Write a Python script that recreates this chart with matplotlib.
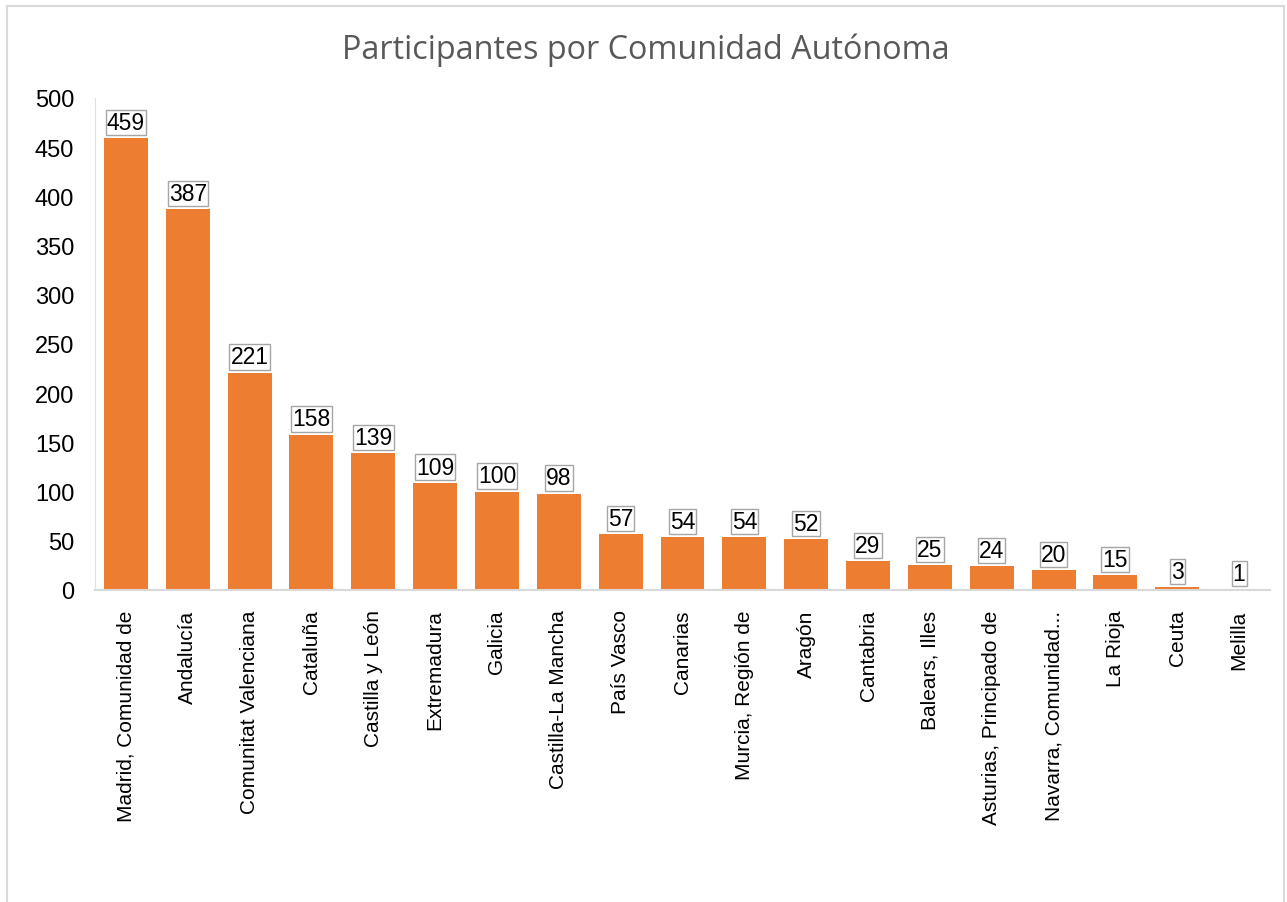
import matplotlib
matplotlib.use("Agg")
import matplotlib.pyplot as plt
from matplotlib.patches import Rectangle

regiones = ["Madrid, Comunidad de", "Andalucía", "Comunitat Valenciana", "Cataluña",
            "Castilla y León", "Extremadura", "Galicia", "Castilla-La Mancha",
            "País Vasco", "Canarias", "Murcia, Región de", "Aragón", "Cantabria",
            "Balears, Illes", "Asturias, Principado de", "Navarra, Comunidad...",
            "La Rioja", "Ceuta", "Melilla"]
participantes = [459, 387, 221, 158, 139, 109, 100, 98, 57, 54, 54, 52, 29, 25, 24, 20, 15, 3, 1]
yticks = list(range(0, 501, 50))

plt.rcParams['font.family'] = ['Liberation Sans', 'DejaVu Sans']

fig = plt.figure(figsize=(12.87, 9.03), dpi=100)
# marco del grafico
fig.patches.append(Rectangle((7/1287, -0.01), (1284-7)/1287, 1 - 7/903 + 0.01,
                             transform=fig.transFigure, fill=False,
                             edgecolor='#d9d9d9', linewidth=1.5))
ax = fig.add_axes([95/1287, 1 - 591/903, (1270-95)/1287, (591-99)/903])

x = range(len(regiones))
bars = ax.bar(x, participantes, width=0.71, color='#ed7d31', zorder=2)
for i, v in enumerate(participantes):
    ax.annotate(str(v), (i, v), xytext=(0, 3), textcoords='offset points',
                ha='center', va='bottom', fontsize=16.5, color='#000000',
                bbox=dict(boxstyle='square,pad=0.05', fc='white', ec='#a6a6a6', lw=1))

ax.set_xlim(-0.5, len(regiones) - 0.5)
ax.set_ylim(0, 500)
ax.set_yticks(yticks)
ax.set_yticklabels([str(t) for t in yticks], fontsize=17, color='#000000')
ax.set_xticks(list(x))
ax.set_xticklabels(regiones, rotation=90, fontsize=15, color='#000000')
ax.tick_params(axis='both', length=0)
ax.tick_params(axis='x', pad=14)
ax.tick_params(axis='y', pad=15)

for s in ['top', 'right']:
    ax.spines[s].set_visible(False)
ax.spines['left'].set_color('#e0e0e0')
ax.spines['bottom'].set_color('#d9d9d9')
ax.spines['bottom'].set_linewidth(1.5)

fig.text(0.502, 1 - 50/903, "Participantes por Comunidad Autónoma", ha='center', va='center',
         fontsize=23.3, color='#595959', family=['Open Sans', 'DejaVu Sans'])

fig.savefig("out.png", dpi=100)
